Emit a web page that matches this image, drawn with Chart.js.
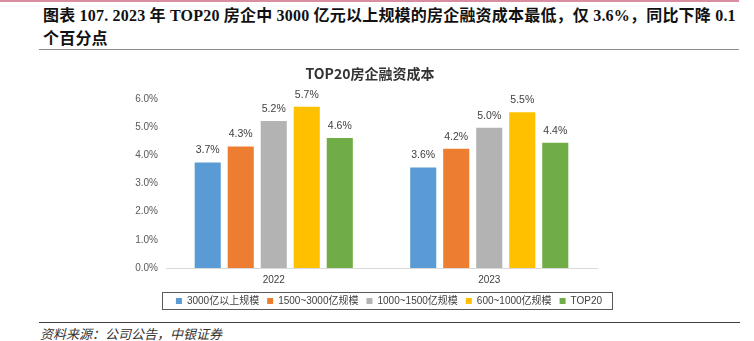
<!DOCTYPE html>
<html>
<head>
<meta charset="utf-8">
<script src="https://cdn.jsdelivr.net/npm/chart.js@4.4.1/dist/chart.umd.min.js"></script>
<style>
  body { margin: 0; width: 754px; height: 341px; background: #fff; position: relative; overflow: hidden; }
  #topline { position: absolute; left: 0; top: 0; width: 739px; height: 2px; background: #d88da0; }
  #heading { position: absolute; left: 43px; top: 4px; font-family: "Liberation Serif", "Noto Sans CJK SC", serif; font-size: 16px; letter-spacing: 0.2px; font-weight: bold; line-height: 23px; color: #111; white-space: nowrap; }
  #rule1 { position: absolute; left: 39px; top: 49px; width: 700px; height: 1px; background: #8c8c8c; }
  #box { position: absolute; left: 100px; top: 58px; }
  #rule2 { position: absolute; left: 39px; top: 322px; width: 701px; height: 1px; background: #404040; }
  #source { position: absolute; left: 40px; top: 324px; font-family: "Noto Sans CJK SC", sans-serif; font-size: 13px; font-style: italic; color: #333; }
</style>
</head>
<body>
<div id="topline"></div>
<div id="heading">图表 107. 2023 年 TOP20 房企中 3000 亿元以上规模的房企融资成本最低，仅 3.6%，同比下降 0.1<br>个百分点</div>
<div id="rule1"></div>
<div id="box"><canvas id="chart" width="560" height="260"></canvas></div>
<div id="rule2"></div>
<div id="source">资料来源：公司公告，中银证券</div>

<script>
const years = ['2022', '2023'];
const seriesNames = ['3000亿以上规模', '1500~3000亿规模', '1000~1500亿规模', '600~1000亿规模', 'TOP20'];
const cost3000 = [3.74, 3.56];
const cost1500to3000 = [4.31, 4.23];
const cost1000to1500 = [5.21, 4.97];
const cost600to1000 = [5.72, 5.52];
const costTop20 = [4.61, 4.44];
const yTicks = [0, 1, 2, 3, 4, 5, 6];

const colors = ['#5b9bd5', '#ed7d31', '#b3b3b3', '#ffc000', '#70ad47'];
const series = [cost3000, cost1500to3000, cost1000to1500, cost600to1000, costTop20];

// percent labels above the bars
const valueLabels = {
  id: 'valueLabels',
  afterDatasetsDraw(chart) {
    const ctx = chart.ctx;
    ctx.save();
    ctx.font = '10.5px "Liberation Sans"';
    ctx.fillStyle = '#404040';
    ctx.textAlign = 'center';
    ctx.textBaseline = 'middle';
    chart.data.datasets.forEach((ds, i) => {
      chart.getDatasetMeta(i).data.forEach((bar, j) => {
        ctx.fillText(ds.data[j].toFixed(1) + '%', bar.x, bar.y - 12);
      });
    });
    ctx.restore();
  }
};

// title and legend are not centred on the same spot in the original
const shiftBlocks = {
  id: 'shiftBlocks',
  afterLayout(chart) {
    chart.titleBlock.left += 8.5;
    chart.titleBlock.right += 8.5;
    chart.legend.left += 27.5;
    chart.legend.right += 27.5;
  },
  afterDraw(chart) {
    const lg = chart.legend;
    const hb = lg.legendHitBoxes;
    if (!hb || !hb.length) return;
    const last = hb[hb.length - 1];
    const x1 = Math.round(hb[0].left - 14) + 0.5;
    const x2 = Math.round(last.left + last.width + 10) + 0.5;
    const mid = hb[0].top + hb[0].height / 2;
    const y1 = Math.round(mid - 9) + 0.5;
    const y2 = Math.round(mid + 9) - 0.5;
    const ctx = chart.ctx;
    ctx.save();
    ctx.strokeStyle = '#595959';
    ctx.lineWidth = 1;
    ctx.strokeRect(x1, y1, x2 - x1, y2 - y1);
    ctx.restore();
  }
};

new Chart(document.getElementById('chart'), {
  type: 'bar',
  data: {
    labels: years,
    datasets: series.map((vals, i) => ({
      label: seriesNames[i],
      data: vals,
      backgroundColor: colors[i],
      borderWidth: 0,
      categoryPercentage: 0.766,
      barPercentage: 0.79
    }))
  },
  options: {
    responsive: false,
    animation: false,
    layout: { padding: { left: 26, right: 63, top: 0, bottom: 2 } },
    plugins: {
      title: {
        display: true,
        text: 'TOP20房企融资成本',
        color: '#333',
        font: { size: 14, weight: 'bold', family: '"Noto Sans CJK SC"' },
        padding: { top: 7, bottom: 17 }
      },
      legend: {
        position: 'bottom',
        labels: {
          boxWidth: 6,
          boxHeight: 6,
          padding: 8,
          color: '#404040',
          font: { size: 10, family: '"Liberation Sans", "Noto Sans CJK SC"' }
        }
      },
      tooltip: { enabled: false }
    },
    scales: {
      x: {
        grid: { display: false, drawTicks: false },
        border: { display: true, color: '#d9d9d9' },
        ticks: { color: '#404040', padding: 6, font: { size: 10, family: '"Liberation Sans"' } },
        afterFit(s) { s.height = 20; }
      },
      y: {
        min: 0,
        max: 6,
        grid: { display: false, drawTicks: false },
        border: { display: false },
        afterBuildTicks(s) { s.ticks = yTicks.map(v => ({ value: v })); },
        ticks: {
          padding: 8,
          color: '#595959',
          font: { size: 10, family: '"Liberation Sans"' },
          callback: v => v.toFixed(1) + '%'
        },
        afterFit(s) { s.width = 40; }
      }
    }
  },
  plugins: [valueLabels, shiftBlocks]
});
</script>
</body>
</html>
